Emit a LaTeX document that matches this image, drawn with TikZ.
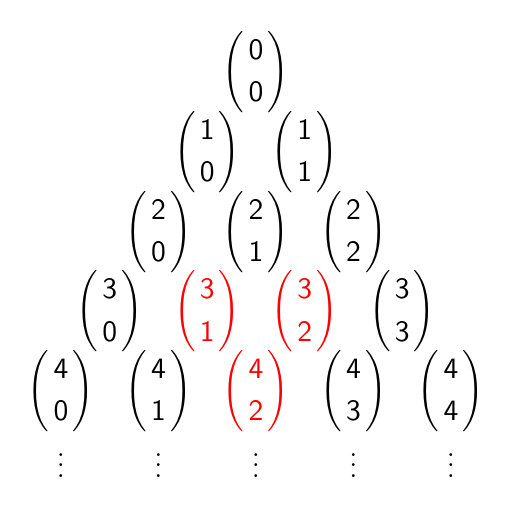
\documentclass[tikz,border=0pt]{standalone}
\usetikzlibrary{positioning}

\renewcommand{\arraystretch}{1.3}
\newcommand{\dg}[1]{\hbox{\fontsize{10.9}{13}\sffamily #1}}
\newcommand{\bn}[2]{$\left(\begin{array}{@{\hspace{1.6pt}}c@{\hspace{1.6pt}}}\dg{#1}\\\dg{#2}\end{array}\right)$}

\begin{document}
\begin{tikzpicture}[node distance={29.4pt and 17.98pt}, on grid,
	bnode/.style={inner sep=0pt},
	hl/.style={bnode, text=red},
	vd/.style={inner sep=0pt}]
	\useasboundingbox (-94.4pt,26.7pt) rectangle (93.7pt,-159.9pt);

	\node [bnode] (b00) at (0,0) {\bn00};

	\node [bnode, below left=of b00] (b10) {\bn10};
	\node [bnode, below right=of b00] (b11) {\bn11};

	\node [bnode, below left=of b10] (b20) {\bn20};
	\node [bnode, below right=of b10] (b21) {\bn21};
	\node [bnode, below right=of b11] (b22) {\bn22};

	\node [bnode, below left=of b20] (b30) {\bn30};
	\node [hl, below right=of b20] (b31) {\bn31};
	\node [hl, below right=of b21] (b32) {\bn32};
	\node [bnode, below right=of b22] (b33) {\bn33};

	\node [bnode, below left=of b30] (b40) {\bn40};
	\node [bnode, below right=of b30] (b41) {\bn41};
	\node [hl, below right=of b31] (b42) {\bn42};
	\node [bnode, below right=of b32] (b43) {\bn43};
	\node [bnode, below right=of b33] (b44) {\bn44};

	% dots under the last row
	\node [vd, below=24.4pt of b40] (d0) {$\vdots$};
	\node [vd, below=24.4pt of b41] (d1) {$\vdots$};
	\node [vd, below=24.4pt of b42] (d2) {$\vdots$};
	\node [vd, below=24.4pt of b43] (d3) {$\vdots$};
	\node [vd, below=24.4pt of b44] (d4) {$\vdots$};
\end{tikzpicture}
\end{document}
